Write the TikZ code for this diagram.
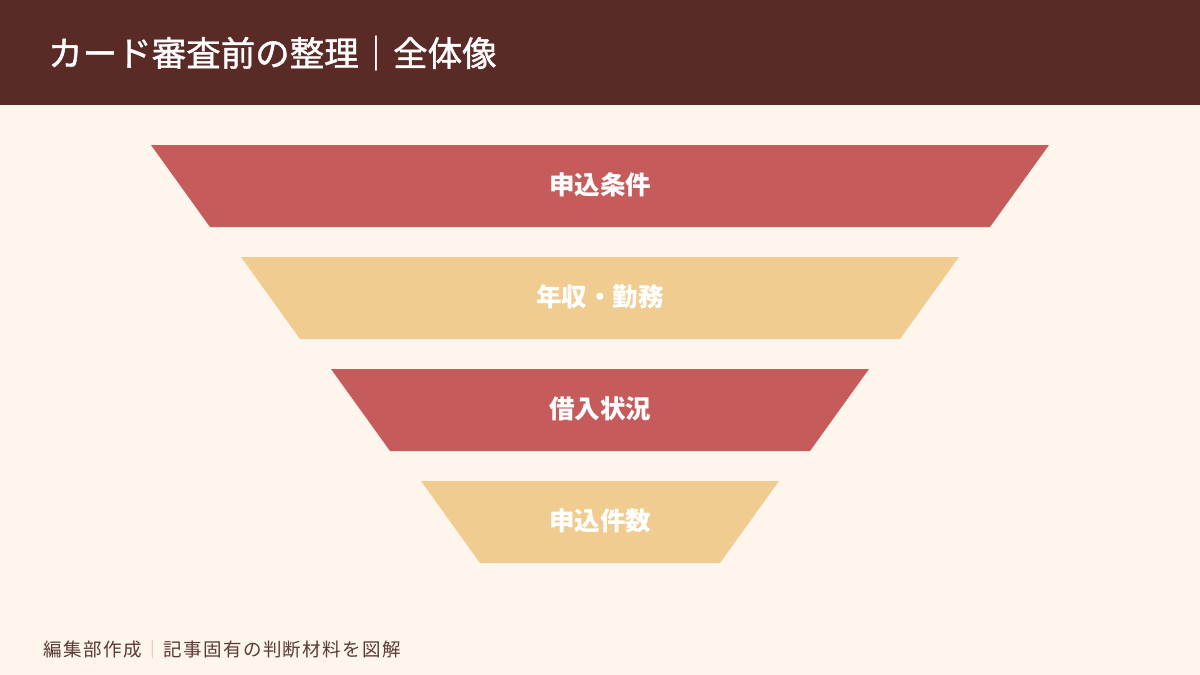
\documentclass[tikz,border=0pt]{standalone}
\usepackage{fontspec}
\newfontfamily\jp{Noto Sans CJK JP}
\newfontfamily\jpmed[FakeBold=1.2]{Noto Sans CJK JP}
\definecolor{bgcream}{HTML}{FEF5EC}
\definecolor{hdrbrown}{HTML}{5A2A27}
\definecolor{tred}{HTML}{C55C5B}
\definecolor{tyellow}{HTML}{F0CC90}
\definecolor{foottext}{HTML}{5A3A35}
\definecolor{footsep}{HTML}{D6BFB0}
\begin{document}
\begin{tikzpicture}[x=1pt,y=-1pt,
  lbl/.style={text=white,font=\jp\bfseries\fontsize{25.5}{30}\selectfont,inner sep=0pt},
  layer/.style={draw=none}]
\useasboundingbox (0,0) rectangle (1200,675);
\fill[bgcream] (0,0) rectangle (1200,675);
\fill[hdrbrown] (0,0) rectangle (1200,105);
\node[anchor=west,text=white,font=\jpmed\fontsize{34.5}{40}\selectfont,inner sep=0pt] (title) at (48,53) {カード審査前の整理｜全体像};
% funnel
\fill[tred,layer] (151,145) -- (1049,145) -- (990,227) -- (210,227) -- cycle;
\node[lbl] (l1) at (600,185) {申込条件};
\fill[tyellow,layer] (241,257) -- (959,257) -- (900,339) -- (300,339) -- cycle;
\node[lbl] (l2) at (600,297) {年収・勤務};
\fill[tred,layer] (331,369) -- (869,369) -- (810,451) -- (390,451) -- cycle;
\node[lbl] (l3) at (600,409) {借入状況};
\fill[tyellow,layer] (421,481) -- (779,481) -- (720,563) -- (480,563) -- cycle;
\node[lbl] (l4) at (600,521) {申込件数};
\node[anchor=west,text=foottext,font=\jp\fontsize{18.5}{22}\selectfont,inner sep=0pt] (foot) at (43,649) {\addfontfeature{LetterSpace=8}編集部作成\hspace{2pt}\textcolor{footsep}{｜}\hspace{1pt}記事固有の判断材料を図解};
\end{tikzpicture}
\end{document}
